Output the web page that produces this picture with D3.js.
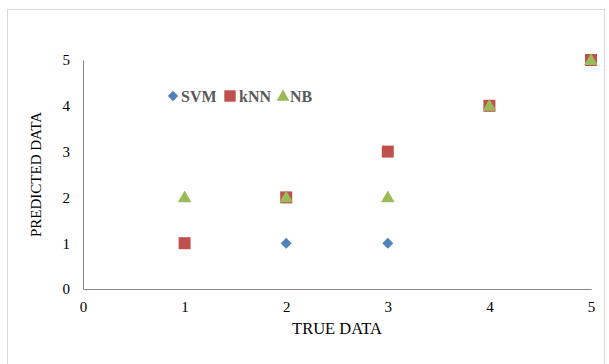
<!DOCTYPE html>
<html>
<head>
<meta charset="utf-8">
<script src="https://cdn.jsdelivr.net/npm/d3@7"></script>
<style>
  html, body { margin: 0; padding: 0; background: #fff; }
  svg { display: block; }
</style>
</head>
<body>
<svg id="chart" width="609" height="364"></svg>
<script>
// Series data: predicted value for each true value
const trueValues = [1, 2, 3, 4, 5];
const svmValues  = [1, 1, 1, 4, 5];
const knnValues  = [1, 2, 3, 4, 5];
const nbValues   = [2, 2, 2, 4, 5];
const seriesNames = ["SVM", "kNN", "NB"];
const xTicks = [0, 1, 2, 3, 4, 5];
const yTicks = [0, 1, 2, 3, 4, 5];

const colors = { SVM: "#4F81BD", kNN: "#C0504D", NB: "#9BBB59" };

const svg = d3.select("#chart");
const W = 609, H = 364;
const margin = { left: 83, right: 18, top: 60, bottom: 75 };

// Marker shapes: diamond is a square turned 45 degrees
function marker(sel, name, scale) {
  const k = scale || 1;
  if (name === "SVM") {
    sel.attr("d", d3.symbol().type(d3.symbolSquare).size(60 * k * k)())
       .attr("data-rot", 45);
  } else if (name === "kNN") {
    sel.attr("d", d3.symbol().type(d3.symbolSquare).size(144 * k * k)());
  } else {
    sel.attr("d", d3.symbol().type(d3.symbolTriangle).size(80 * k * k)());
  }
  return sel;
}

// Chart frame
svg.append("rect")
  .attr("x", 7.5).attr("y", 9.5)
  .attr("width", 597).attr("height", 360)
  .attr("fill", "#fff").attr("stroke", "#d9d9d9").attr("stroke-width", 1);

const x = d3.scaleLinear().domain([0, 5]).range([margin.left, W - margin.right]);
const y = d3.scaleLinear().domain([0, 5]).range([H - margin.bottom, margin.top]);

const font = "'Liberation Serif', 'Times New Roman', serif";

// Axes
const xAxis = svg.append("g")
  .attr("transform", `translate(0,${y(0)})`)
  .call(d3.axisBottom(x).tickValues(xTicks).tickSize(0).tickPadding(12).tickFormat(d3.format("d")));
const yAxis = svg.append("g")
  .attr("transform", `translate(${x(0)},0)`)
  .call(d3.axisLeft(y).tickValues(yTicks).tickSize(0).tickPadding(13).tickFormat(d3.format("d")));

[xAxis, yAxis].forEach(g => {
  g.select(".domain").attr("stroke", "#868686").attr("stroke-width", 1);
  g.selectAll("text").attr("font-family", font).attr("font-size", 15).attr("fill", "#000");
});

// Axis titles
svg.append("text")
  .attr("x", (x(0) + x(5)) / 2).attr("y", 334)
  .attr("text-anchor", "middle")
  .attr("font-family", font).attr("font-size", 16.5).attr("fill", "#000")
  .text("TRUE DATA");
svg.append("text")
  .attr("transform", `translate(41,${(y(0) + y(5)) / 2}) rotate(-90)`)
  .attr("text-anchor", "middle")
  .attr("font-family", font).attr("font-size", 15).attr("fill", "#000")
  .text("PREDICTED DATA");

// Points
const seriesData = [
  { name: "SVM", values: svmValues },
  { name: "kNN", values: knnValues },
  { name: "NB", values: nbValues }
];

seriesData.forEach(s => {
  svg.append("g").selectAll("path")
    .data(trueValues.map((t, i) => ({ t, p: s.values[i] })))
    .join("path")
    .each(function() { marker(d3.select(this), s.name); })
    .attr("transform", d => `translate(${x(d.t)},${y(d.p) + (s.name === "NB" ? 1 : 0)})` +
      (s.name === "SVM" ? " rotate(45)" : ""))
    .attr("fill", colors[s.name]);
});

// Legend
const legendItems = [
  { name: "SVM", cx: 173, tx: 181 },
  { name: "kNN", cx: 230, tx: 239 },
  { name: "NB",  cx: 283, tx: 290 }
];
const legend = svg.append("g").attr("transform", "translate(0,96)");
legendItems.forEach(item => {
  legend.append("path")
    .call(marker, item.name, 0.95)
    .attr("transform", `translate(${item.cx},${item.name === "NB" ? 1 : 0})` +
      (item.name === "SVM" ? " rotate(45)" : ""))
    .attr("fill", colors[item.name]);
  legend.append("text")
    .attr("x", item.tx).attr("y", 6)
    .attr("font-family", font).attr("font-size", 16).attr("font-weight", "bold")
    .attr("fill", "#595959")
    .text(item.name);
});
</script>
</body>
</html>
